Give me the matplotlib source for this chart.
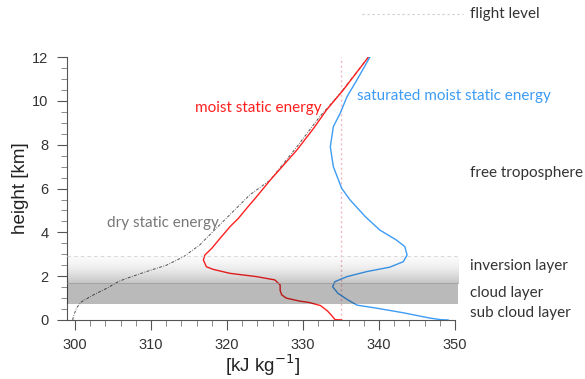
import numpy as np
import matplotlib
matplotlib.use('Agg')
import matplotlib.pyplot as plt
from matplotlib.ticker import MultipleLocator

# profiles: energy [kJ/kg] vs height [km]
dse_z = [0.0, 0.15, 0.55, 0.84, 1.14, 1.45, 1.75, 1.90, 2.21, 2.51, 2.89, 3.42,
         4.19, 4.95, 5.71, 6.39, 7.91, 9.28, 10.35, 12.0]
dse_h = [299.7, 299.8, 300.2, 300.9, 302.4, 304.2, 305.7, 306.8, 309.4, 312.1, 314.3, 316.4,
         318.6, 320.8, 323.0, 325.7, 329.2, 332.2, 334.9, 338.6]

mse_z = [0.0, 0.02, 0.2, 0.42, 0.66, 0.8, 0.86, 1.0, 1.15, 1.35, 1.6, 1.83, 1.98,
         2.13, 2.31, 2.43, 2.74, 2.97, 3.27, 3.73, 4.26, 4.64, 5.1, 5.63, 6.39,
         7.76, 8.75, 9.59, 10.5, 12.0]
mse_h = [335.1, 334.2, 333.8, 333.2, 332.3, 330.8, 329.6, 327.8, 327.2, 327.0, 327.0, 326.3, 323.9,
         320.4, 318.2, 317.3, 316.9, 317.1, 318.0, 319.1, 320.4, 321.5, 322.6, 323.9, 325.7,
         329.2, 331.4, 333.1, 335.3, 338.6]

smse_z = [0.0, 0.02, 0.1, 0.33, 0.55, 0.68, 0.94, 1.22, 1.52, 1.75, 1.98, 2.21, 2.41,
          2.66, 2.97, 3.35, 3.65, 4.11, 4.72, 5.48, 6.01, 7.0, 7.91, 8.83, 9.44,
          10.2, 10.96, 12.0]
smse_h = [349.1, 348.0, 346.5, 343.2, 339.5, 337.1, 335.8, 334.6, 333.9, 334.2, 335.8, 338.4, 341.4,
          343.2, 343.7, 343.4, 342.3, 340.1, 338.2, 336.2, 335.1, 334.0, 333.6, 334.0, 334.9,
          335.8, 337.1, 338.8]

# layers [km]
cloud_base = 0.73
cloud_top = 1.7
inversion_top = 2.9
flight_x = 335.0

layer_names = ['free troposphere', 'inversion layer', 'cloud layer', 'sub cloud layer']
layer_z = [6.7, 2.47, 1.22, 0.31]

xmin, xmax = 298.9, 350.5
band_right = 350.4

txt_font = ['Lato', 'DejaVu Sans']
plt.rcParams['font.family'] = ['Liberation Sans', 'DejaVu Sans']

fig = plt.figure(figsize=(5.85, 3.79), dpi=100)
ax = fig.add_axes([0.1138, 0.1557, 0.6704, 0.6934])

ax.plot(dse_h, dse_z, color='#555555', lw=0.7, dashes=(3, 1.5, 0.8, 1.5), zorder=3)
ax.plot(mse_h, mse_z, color='#ff2020', lw=1.0, zorder=3)
ax.plot(smse_h, smse_z, color='#3d9cf5', lw=1.0, zorder=3)

# flight level (vertical pink dotted)
ax.plot([flight_x, flight_x], [0, 12], color='#f2b8c2', lw=1.0, ls=(0, (1.5, 2)), zorder=2)

# cloud layer band and inversion gradient (dark overlay on top of lines)
ax.fill_between([xmin, band_right], cloud_base, cloud_top, color='black', alpha=0.27,
                lw=0, zorder=4, clip_on=False)
ax.plot([xmin, band_right], [cloud_top, cloud_top], color='#999999', lw=0.5, zorder=4, clip_on=False)
g = np.linspace(0, 1, 200)[:, None]
rgba = np.zeros((200, 1, 4))
rgba[..., 3] = 0.21 * (1 - g) ** 1.6 + 0.02
ax.imshow(rgba, extent=[xmin, band_right, cloud_top, inversion_top], origin='lower',
          aspect='auto', zorder=4, interpolation='bilinear', clip_on=False)
ax.plot([xmin, band_right], [inversion_top, inversion_top], color='#d8d8d8', lw=0.8,
        ls=(0, (3, 3)), zorder=4, clip_on=False)

ax.set_xlim(xmin, xmax)
ax.set_ylim(0, 12)

for s in ['top', 'right']:
    ax.spines[s].set_visible(False)
for s in ['left', 'bottom']:
    ax.spines[s].set_color('#555555')
    ax.spines[s].set_linewidth(0.8)
ax.spines['bottom'].set_bounds(xmin, 350)

ax.set_xticks([300, 310, 320, 330, 340, 350])
ax.xaxis.set_minor_locator(MultipleLocator(2))
ax.yaxis.set_major_locator(MultipleLocator(2))
ax.yaxis.set_minor_locator(MultipleLocator(0.5))
ax.tick_params(which='major', length=7, width=0.8, color='#555555', labelsize=10.5,
               labelcolor='#333333', pad=6)
ax.tick_params(which='minor', length=4, width=0.6, color='#777777')

ax.set_ylabel('height [km]', fontsize=13.5, color='#222222', labelpad=2)
ax.set_xlabel('[kJ kg$^{-1}$]', fontsize=13.5, color='#222222', labelpad=0)

ax.text(315.8, 9.68, 'moist static energy', color='#ff2020', fontsize=11,
        family=txt_font, va='center', ha='left', zorder=5)
ax.text(337.1, 10.23, 'saturated moist static energy', color='#3d9cf5', fontsize=11,
        family=txt_font, va='center', ha='left', zorder=5)
ax.text(304.2, 4.41, 'dry static energy', color='#777777', fontsize=11,
        family=txt_font, va='center', ha='left', zorder=5)

for name, z in zip(layer_names, layer_z):
    ax.text(352.0, z, name, color='#333333', fontsize=11, family=txt_font,
            va='center', ha='left', clip_on=False)

# flight level key
ax.plot([337.8, 351.1], [13.97, 13.97], color='#cccccc', lw=0.8, ls=(0, (2, 2.5)), clip_on=False)
ax.text(352.0, 13.97, 'flight level', color='#333333', fontsize=11, family=txt_font,
        va='center', ha='left', clip_on=False)

fig.savefig('out.png', dpi=100)
